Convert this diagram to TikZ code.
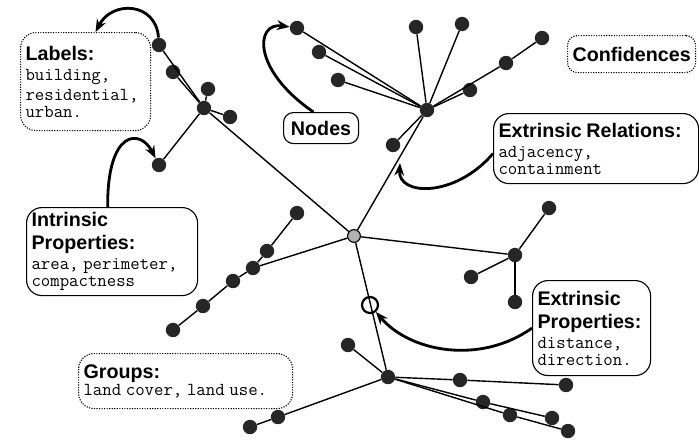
\documentclass[tikz,border=0pt]{standalone}
\usepackage{fontspec}
\setmainfont{Liberation Sans}
\usepackage{tikz}
\usetikzlibrary{arrows.meta}
\newcommand{\boxttl}{\fontsize{14}{16.4}\selectfont\bfseries}
\newcommand{\boxtt}{\fontsize{13}{14.2}\selectfont\ttfamily}

\tikzset{
  dot/.style={circle, fill=black!85, inner sep=0pt, minimum size=0.36cm},
  hub/.style={circle, fill=gray!60, draw=black, line width=0.8pt, inner sep=0pt, minimum size=0.32cm},
  ring/.style={circle, draw=black, line width=1.6pt, inner sep=0pt, minimum size=0.4cm},
  edge/.style={line width=1pt},
  callout/.style={line width=2pt, -{Stealth[length=9pt,width=7pt]}},
  infobox/.style 2 args={draw, rounded corners=11pt, line width=0.8pt, anchor=north west,
    align=left, inner xsep=0.125cm, inner ysep=0pt, text width=#1, minimum height=#2},
  tagbox/.style 2 args={draw, rounded corners=7pt, line width=0.8pt, anchor=north west,
    align=center, inner xsep=0.125cm, inner ysep=0pt, text width=#1, minimum height=#2,
    font=\boxttl},
}

\begin{document}
\begin{tikzpicture}[x=0.025cm, y=-0.025cm]
    \useasboundingbox (0,0) rectangle (699,441);

    \node[infobox={3.0cm}{2.45cm}, densely dotted] (labels) at (20,32)
        {{\boxttl Labels:\par}\boxtt building,\\residential,\\urban.};
    \node[tagbox={1.625cm}{0.775cm}] (nodesbox) at (283,112) {Nodes};
    \node[tagbox={2.95cm}{0.925cm}, densely dotted] (conf) at (567,35) {Confidences};
    \node[infobox={4.875cm}{1.75cm}] (erel) at (493,113)
        {{\boxttl Extrinsic Relations:\par}\boxtt adjacency,\\containment};
    \node[infobox={4.025cm}{2.2cm}] (intr) at (26,207)
        {{\boxttl Intrinsic\\Properties:\par}\boxtt area, perimeter,\\compactness};
    \node[infobox={2.7cm}{2.375cm}] (extp) at (532,280)
        {{\boxttl Extrinsic\\Properties:\par}\boxtt distance,\\direction.};
    \node[infobox={5.1cm}{1.375cm}, densely dotted] (groups) at (78,353)
        {{\boxttl Groups:\par}\boxtt land cover, land use.};

    \node[hub] (c) at (354,236) {};
    \node[dot] (tl) at (204,108) {};
    \node[dot] (l1) at (159,45) {};
    \node[dot] (l2) at (173,72) {};
    \node[dot] (l3) at (208,89) {};
    \node[dot] (l4) at (230,117) {};
    \node[dot] (l5) at (159,165) {};
    \node[dot] (tr) at (427,110) {};
    \node[dot] (r1) at (297,28) {};
    \node[dot] (r2) at (319,52) {};
    \node[dot] (r3) at (338,80) {};
    \node[dot] (r4) at (416,27) {};
    \node[dot] (r5) at (462,24) {};
    \node[dot] (r6) at (470,90) {};
    \node[dot] (r7) at (506,63) {};
    \node[dot] (r8) at (542,38) {};
    \node[dot] (r9) at (393,145) {};
    \node[dot] (rh) at (515,255) {};
    \node[dot] (e1) at (549,208) {};
    \node[dot] (e2) at (471,277) {};
    \node[dot] (e3) at (515,302) {};
    \node[dot] (bh) at (388,377) {};
    \node[dot] (b1) at (348,345) {};
    \node[dot] (b2) at (460,380) {};
    \node[dot] (b3) at (566,385) {};
    \node[dot] (b4) at (483,402) {};
    \node[dot] (b5) at (510,415) {};
    \node[dot] (b6) at (552,418) {};
    \node[dot] (b7) at (568,431) {};
    \node[dot] (b8) at (278,417) {};
    \node[dot] (b9) at (250,427) {};
    \node[dot] (k1) at (297,213) {};
    \node[dot] (k2) at (267,251) {};
    \node[dot] (k3) at (253,268) {};
    \node[dot] (k4) at (233,281) {};
    \node[dot] (k5) at (203,306) {};
    \node[dot] (k6) at (173,330) {};
    \node[ring] (ring) at (370,305) {};
    \coordinate (relpt) at (400,163);

    \draw[edge] (c) -- (tl);
    \draw[edge] (tl) -- (l1);
    \draw[edge] (tl) -- (l2);
    \draw[edge] (tl) -- (l3);
    \draw[edge] (tl) -- (l4);
    \draw[edge] (tl) -- (l5);
    \draw[edge] (c) -- (tr);
    \foreach \n in {r1,r2,r3,r4,r5,r6,r7,r9}
        \draw[edge] (tr) -- (\n);
    \draw[edge] (r7) -- (r8);
    \draw[edge] (c) -- (rh);
    \draw[edge] (rh) -- (e1);
    \draw[edge] (rh) -- (e2);
    \draw[edge] (rh) -- (e3);
    \draw[edge] (c) -- (bh);
    \draw[edge] (bh) -- (b1);
    \draw[edge] (bh) -- (b2) -- (b3);
    \draw[edge] (bh) -- (b4) -- (b6);
    \draw[edge] (bh) -- (b5) -- (b7);
    \draw[edge] (bh) -- (b8) -- (b9);
    \draw[edge] (k1) -- (k2) -- (k3) -- (k4) -- (k5) -- (k6);
    \draw[edge] (c) -- (k3);

    \draw[callout] (l1) .. controls (156,2) and (112,0) .. ([xshift=0.25cm]labels.north);
    \draw[callout] ([xshift=-0.11cm]intr.north) .. controls (107,130) and (140,128) .. (l5);
    \draw[callout] ([xshift=-0.19cm]nodesbox.north) .. controls (252,70) and (255,22) .. (r1);
    \draw[callout] ([yshift=-0.125cm]erel.west) .. controls (455,198) and (398,196) .. (relpt);
    \draw[callout] (extp.west) .. controls (480,365) and (410,352) .. (ring);
\end{tikzpicture}
\end{document}
